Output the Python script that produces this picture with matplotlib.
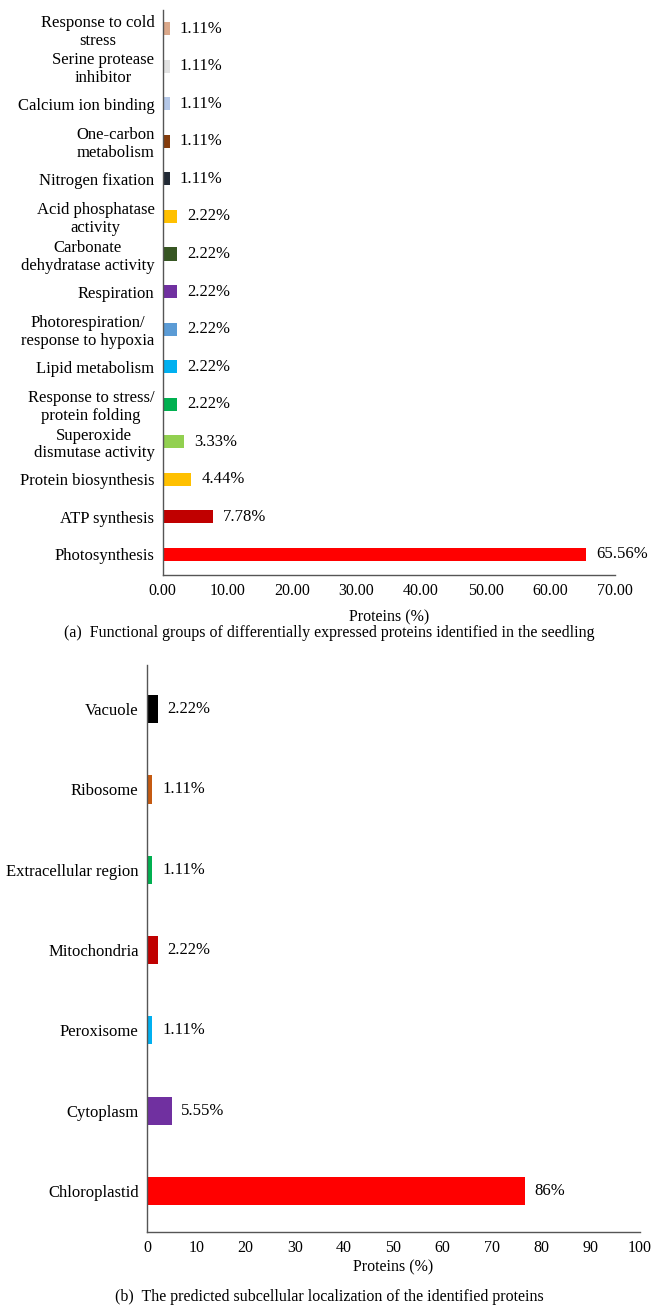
import matplotlib
matplotlib.use('Agg')
import matplotlib.pyplot as plt

plt.rcParams['font.family'] = ['Liberation Serif', 'DejaVu Serif']

# (a) functional groups, listed bottom to top
func_names = ['Photosynthesis', 'ATP synthesis', 'Protein biosynthesis',
              'Superoxide\ndismutase activity', 'Response to stress/\nprotein folding',
              'Lipid metabolism', 'Photorespiration/\nresponse to hypoxia', 'Respiration',
              'Carbonate\ndehydratase activity', 'Acid phosphatase\nactivity',
              'Nitrogen fixation', 'One-carbon\nmetabolism', 'Calcium ion binding',
              'Serine protease\ninhibitor', 'Response to cold\nstress']
func_vals = [65.56, 7.78, 4.44, 3.33, 2.22, 2.22, 2.22, 2.22, 2.22, 2.22,
             1.11, 1.11, 1.11, 1.11, 1.11]
func_colors = ['#ff0000', '#c00000', '#ffc000', '#92d050', '#00b050', '#00b0f0',
               '#5b9bd5', '#7030a0', '#375623', '#ffc000', '#222a35', '#843c0c',
               '#b4c7e7', '#e2e2e2', '#dba88a']
func_ticks = [0, 10, 20, 30, 40, 50, 60, 70]

# (b) subcellular localization, bottom to top
loc_names = ['Chloroplastid', 'Cytoplasm', 'Peroxisome', 'Mitochondria',
             'Extracellular region', 'Ribosome', 'Vacuole']
loc_vals = [76.7, 5.0, 1.11, 2.22, 1.11, 1.11, 2.22]
loc_labels = ['86%', '5.55%', '1.11%', '2.22%', '1.11%', '1.11%', '2.22%']
loc_colors = ['#ff0000', '#7030a0', '#00b0f0', '#c00000', '#00b050', '#c55a11', '#000000']
loc_ticks = [0, 10, 20, 30, 40, 50, 60, 70, 80, 90, 100]

fig = plt.figure(figsize=(6.59, 13.16), dpi=100)
spine_col = '#555555'
fs_cat = 12
fs_tick = 11.5
fs_val = 12


def style(ax):
    for s in ['top', 'right']:
        ax.spines[s].set_visible(False)
    for s in ['left', 'bottom']:
        ax.spines[s].set_color(spine_col)
        ax.spines[s].set_linewidth(1.0)
    ax.tick_params(length=0, pad=6)
    ax.tick_params(axis='x', labelsize=fs_tick)
    ax.tick_params(axis='y', labelsize=fs_cat)


# top panel
ax1 = fig.add_axes([0.247, 0.5631, 0.686, 0.4293])
y1 = range(len(func_names))
ax1.barh(y1, func_vals, height=0.35, color=func_colors)
for y, v in zip(y1, func_vals):
    ax1.annotate(f'{v:.2f}%', (v, y), xytext=(7, 0), textcoords='offset points',
                 va='center', ha='left', fontsize=fs_val)
ax1.set_yticks(list(y1))
ax1.set_yticklabels(func_names, multialignment='center', linespacing=1.15)
ax1.set_xticks(func_ticks)
ax1.set_xticklabels([f'{t:.2f}' for t in func_ticks])
ax1.set_xlim(0, 70)
ax1.set_ylim(-0.55, 14.5)
style(ax1)
ax1.set_xlabel('Proteins (%)', fontsize=fs_tick, labelpad=7)

fig.text(0.5, 1 - 633 / 1316, '(a)  Functional groups of differentially expressed proteins identified in the seedling',
         ha='center', va='center', fontsize=11.5)

# bottom panel
ax2 = fig.add_axes([0.223, 0.0638, 0.748, 0.4309])
y2 = range(len(loc_names))
ax2.barh(y2, loc_vals, height=0.35, color=loc_colors)
for y, v, lab in zip(y2, loc_vals, loc_labels):
    ax2.annotate(lab, (v, y), xytext=(7, 0), textcoords='offset points',
                 va='center', ha='left', fontsize=fs_val)
ax2.set_yticks(list(y2))
ax2.set_yticklabels(loc_names)
ax2.set_xticks(loc_ticks)
ax2.set_xlim(0, 100)
ax2.set_ylim(-0.51, 6.55)
style(ax2)
ax2.set_xlabel('Proteins (%)', fontsize=fs_tick, labelpad=2)

fig.text(0.5, 1 - 1297 / 1316, '(b)  The predicted subcellular localization of the identified proteins',
         ha='center', va='center', fontsize=11.5)

fig.savefig('out.png', dpi=100, facecolor='white')
